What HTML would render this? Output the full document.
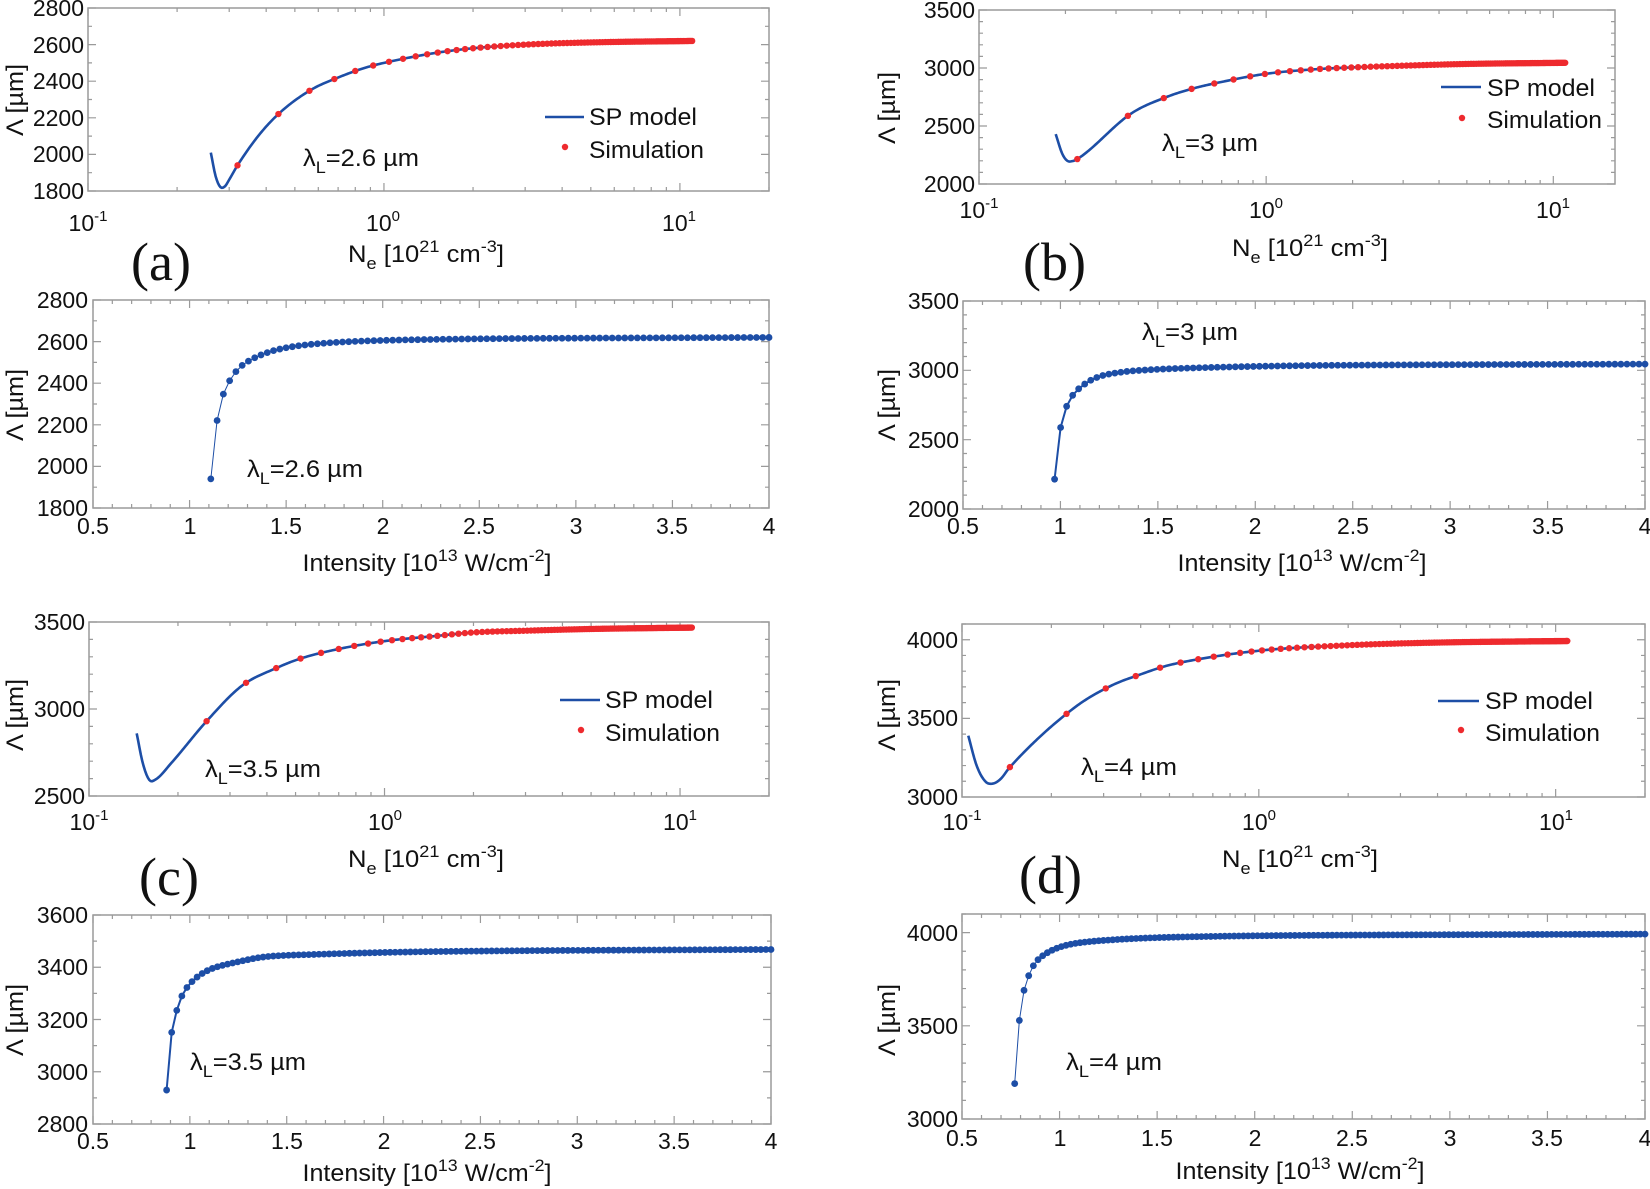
<!DOCTYPE html>
<html><head><meta charset="utf-8">
<style>
html,body{margin:0;padding:0;background:#fff;}
svg{display:block;font-family:"Liberation Sans",Arial,sans-serif;}
.t{font-size:23px;fill:#111;}
.tl{font-size:24px;fill:#111;}
.pl{font-family:"Liberation Serif",serif;font-size:54px;fill:#111;}
</style></head>
<body>
<svg id="s" width="1650" height="1189" viewBox="0 0 1650 1189" xmlns="http://www.w3.org/2000/svg">
<rect width="1650" height="1189" fill="#fff"/>
<g id="geo"></g>

<!-- ===== Panel a ===== -->
<g class="t" text-anchor="end">
<text x="84" y="199">1800</text><text x="84" y="162">2000</text><text x="84" y="126">2200</text><text x="84" y="89">2400</text><text x="84" y="53">2600</text><text x="84" y="16">2800</text>
</g>
<g class="t" text-anchor="middle">
<text x="88" y="231">10<tspan font-size="15" dy="-10">-1</tspan></text>
<text x="383" y="231">10<tspan font-size="15" dy="-10">0</tspan></text>
<text x="679" y="231">10<tspan font-size="15" dy="-10">1</tspan></text>
</g>
<text class="tl" x="426" y="262" text-anchor="middle" textLength="156" lengthAdjust="spacingAndGlyphs">N<tspan font-size="17" dy="7">e</tspan><tspan dy="-7"> [10</tspan><tspan font-size="17" dy="-10">21</tspan><tspan dy="10"> cm</tspan><tspan font-size="17" dy="-10">-3</tspan><tspan dy="10">]</tspan></text>
<text class="tl" transform="translate(23,100) rotate(-90)" text-anchor="middle" textLength="72" lengthAdjust="spacingAndGlyphs">Λ [µm]</text>
<text class="tl" x="303" y="166" textLength="116" lengthAdjust="spacingAndGlyphs">λ<tspan font-size="17" dy="7">L</tspan><tspan dy="-7">=2.6 µm</tspan></text>
<text class="tl" x="589" y="125" textLength="108" lengthAdjust="spacingAndGlyphs">SP model</text>
<text class="tl" x="589" y="158" textLength="115" lengthAdjust="spacingAndGlyphs">Simulation</text>
<text class="pl" x="131" y="280">(a)</text>

<!-- ===== Panel b ===== -->
<g class="t" text-anchor="end">
<text x="975" y="192">2000</text><text x="975" y="134">2500</text><text x="975" y="76">3000</text><text x="975" y="18">3500</text>
</g>
<g class="t" text-anchor="middle">
<text x="979" y="218">10<tspan font-size="15" dy="-10">-1</tspan></text>
<text x="1266" y="218">10<tspan font-size="15" dy="-10">0</tspan></text>
<text x="1553" y="218">10<tspan font-size="15" dy="-10">1</tspan></text>
</g>
<text class="tl" x="1310" y="256" text-anchor="middle" textLength="156" lengthAdjust="spacingAndGlyphs">N<tspan font-size="17" dy="7">e</tspan><tspan dy="-7"> [10</tspan><tspan font-size="17" dy="-10">21</tspan><tspan dy="10"> cm</tspan><tspan font-size="17" dy="-10">-3</tspan><tspan dy="10">]</tspan></text>
<text class="tl" transform="translate(895,108) rotate(-90)" text-anchor="middle" textLength="72" lengthAdjust="spacingAndGlyphs">Λ [µm]</text>
<text class="tl" x="1162" y="151" textLength="96" lengthAdjust="spacingAndGlyphs">λ<tspan font-size="17" dy="7">L</tspan><tspan dy="-7">=3 µm</tspan></text>
<text class="tl" x="1487" y="96" textLength="108" lengthAdjust="spacingAndGlyphs">SP model</text>
<text class="tl" x="1487" y="128" textLength="115" lengthAdjust="spacingAndGlyphs">Simulation</text>
<text class="pl" x="1023" y="280">(b)</text>

<!-- ===== Panel a2 ===== -->
<g class="t" text-anchor="end">
<text x="88" y="516">1800</text><text x="88" y="474">2000</text><text x="88" y="433">2200</text><text x="88" y="391">2400</text><text x="88" y="350">2600</text><text x="88" y="308">2800</text>
</g>
<g class="t" text-anchor="middle">
<text x="93" y="534">0.5</text><text x="190" y="534">1</text><text x="286" y="534">1.5</text><text x="383" y="534">2</text><text x="479" y="534">2.5</text><text x="576" y="534">3</text><text x="672" y="534">3.5</text><text x="769" y="534">4</text>
</g>
<text class="tl" x="427" y="571" text-anchor="middle" textLength="249" lengthAdjust="spacingAndGlyphs">Intensity [10<tspan font-size="17" dy="-10">13</tspan><tspan dy="10"> W/cm</tspan><tspan font-size="17" dy="-10">-2</tspan><tspan dy="10">]</tspan></text>
<text class="tl" transform="translate(23,405) rotate(-90)" text-anchor="middle" textLength="72" lengthAdjust="spacingAndGlyphs">Λ [µm]</text>
<text class="tl" x="247" y="477" textLength="116" lengthAdjust="spacingAndGlyphs">λ<tspan font-size="17" dy="7">L</tspan><tspan dy="-7">=2.6 µm</tspan></text>

<!-- ===== Panel b2 ===== -->
<g class="t" text-anchor="end">
<text x="959" y="517">2000</text><text x="959" y="448">2500</text><text x="959" y="378">3000</text><text x="959" y="309">3500</text>
</g>
<g class="t" text-anchor="middle">
<text x="963" y="534">0.5</text><text x="1060" y="534">1</text><text x="1158" y="534">1.5</text><text x="1255" y="534">2</text><text x="1353" y="534">2.5</text><text x="1450" y="534">3</text><text x="1548" y="534">3.5</text><text x="1645" y="534">4</text>
</g>
<text class="tl" x="1302" y="571" text-anchor="middle" textLength="249" lengthAdjust="spacingAndGlyphs">Intensity [10<tspan font-size="17" dy="-10">13</tspan><tspan dy="10"> W/cm</tspan><tspan font-size="17" dy="-10">-2</tspan><tspan dy="10">]</tspan></text>
<text class="tl" transform="translate(895,405) rotate(-90)" text-anchor="middle" textLength="72" lengthAdjust="spacingAndGlyphs">Λ [µm]</text>
<text class="tl" x="1142" y="340" textLength="96" lengthAdjust="spacingAndGlyphs">λ<tspan font-size="17" dy="7">L</tspan><tspan dy="-7">=3 µm</tspan></text>

<!-- ===== Panel c ===== -->
<g class="t" text-anchor="end">
<text x="85" y="804">2500</text><text x="85" y="717">3000</text><text x="85" y="630">3500</text>
</g>
<g class="t" text-anchor="middle">
<text x="89" y="830">10<tspan font-size="15" dy="-10">-1</tspan></text>
<text x="385" y="830">10<tspan font-size="15" dy="-10">0</tspan></text>
<text x="680" y="830">10<tspan font-size="15" dy="-10">1</tspan></text>
</g>
<text class="tl" x="426" y="867" text-anchor="middle" textLength="156" lengthAdjust="spacingAndGlyphs">N<tspan font-size="17" dy="7">e</tspan><tspan dy="-7"> [10</tspan><tspan font-size="17" dy="-10">21</tspan><tspan dy="10"> cm</tspan><tspan font-size="17" dy="-10">-3</tspan><tspan dy="10">]</tspan></text>
<text class="tl" transform="translate(23,715) rotate(-90)" text-anchor="middle" textLength="72" lengthAdjust="spacingAndGlyphs">Λ [µm]</text>
<text class="tl" x="205" y="777" textLength="116" lengthAdjust="spacingAndGlyphs">λ<tspan font-size="17" dy="7">L</tspan><tspan dy="-7">=3.5 µm</tspan></text>
<text class="tl" x="605" y="708" textLength="108" lengthAdjust="spacingAndGlyphs">SP model</text>
<text class="tl" x="605" y="741" textLength="115" lengthAdjust="spacingAndGlyphs">Simulation</text>
<text class="pl" x="139" y="895">(c)</text>

<!-- ===== Panel d ===== -->
<g class="t" text-anchor="end">
<text x="958" y="805">3000</text><text x="958" y="726">3500</text><text x="958" y="648">4000</text>
</g>
<g class="t" text-anchor="middle">
<text x="962" y="830">10<tspan font-size="15" dy="-10">-1</tspan></text>
<text x="1259" y="830">10<tspan font-size="15" dy="-10">0</tspan></text>
<text x="1556" y="830">10<tspan font-size="15" dy="-10">1</tspan></text>
</g>
<text class="tl" x="1300" y="867" text-anchor="middle" textLength="156" lengthAdjust="spacingAndGlyphs">N<tspan font-size="17" dy="7">e</tspan><tspan dy="-7"> [10</tspan><tspan font-size="17" dy="-10">21</tspan><tspan dy="10"> cm</tspan><tspan font-size="17" dy="-10">-3</tspan><tspan dy="10">]</tspan></text>
<text class="tl" transform="translate(895,715) rotate(-90)" text-anchor="middle" textLength="72" lengthAdjust="spacingAndGlyphs">Λ [µm]</text>
<text class="tl" x="1081" y="775" textLength="96" lengthAdjust="spacingAndGlyphs">λ<tspan font-size="17" dy="7">L</tspan><tspan dy="-7">=4 µm</tspan></text>
<text class="tl" x="1485" y="709" textLength="108" lengthAdjust="spacingAndGlyphs">SP model</text>
<text class="tl" x="1485" y="741" textLength="115" lengthAdjust="spacingAndGlyphs">Simulation</text>
<text class="pl" x="1019" y="893">(d)</text>

<!-- ===== Panel c2 ===== -->
<g class="t" text-anchor="end">
<text x="88" y="1132">2800</text><text x="88" y="1080">3000</text><text x="88" y="1028">3200</text><text x="88" y="975">3400</text><text x="88" y="923">3600</text>
</g>
<g class="t" text-anchor="middle">
<text x="93" y="1149">0.5</text><text x="190" y="1149">1</text><text x="287" y="1149">1.5</text><text x="384" y="1149">2</text><text x="480" y="1149">2.5</text><text x="577" y="1149">3</text><text x="674" y="1149">3.5</text><text x="771" y="1149">4</text>
</g>
<text class="tl" x="427" y="1181" text-anchor="middle" textLength="249" lengthAdjust="spacingAndGlyphs">Intensity [10<tspan font-size="17" dy="-10">13</tspan><tspan dy="10"> W/cm</tspan><tspan font-size="17" dy="-10">-2</tspan><tspan dy="10">]</tspan></text>
<text class="tl" transform="translate(23,1020) rotate(-90)" text-anchor="middle" textLength="72" lengthAdjust="spacingAndGlyphs">Λ [µm]</text>
<text class="tl" x="190" y="1070" textLength="116" lengthAdjust="spacingAndGlyphs">λ<tspan font-size="17" dy="7">L</tspan><tspan dy="-7">=3.5 µm</tspan></text>

<!-- ===== Panel d2 ===== -->
<g class="t" text-anchor="end">
<text x="958" y="1127">3000</text><text x="958" y="1034">3500</text><text x="958" y="941">4000</text>
</g>
<g class="t" text-anchor="middle">
<text x="962" y="1146">0.5</text><text x="1060" y="1146">1</text><text x="1157" y="1146">1.5</text><text x="1255" y="1146">2</text><text x="1352" y="1146">2.5</text><text x="1450" y="1146">3</text><text x="1547" y="1146">3.5</text><text x="1645" y="1146">4</text>
</g>
<text class="tl" x="1300" y="1179" text-anchor="middle" textLength="249" lengthAdjust="spacingAndGlyphs">Intensity [10<tspan font-size="17" dy="-10">13</tspan><tspan dy="10"> W/cm</tspan><tspan font-size="17" dy="-10">-2</tspan><tspan dy="10">]</tspan></text>
<text class="tl" transform="translate(895,1020) rotate(-90)" text-anchor="middle" textLength="72" lengthAdjust="spacingAndGlyphs">Λ [µm]</text>
<text class="tl" x="1066" y="1070" textLength="96" lengthAdjust="spacingAndGlyphs">λ<tspan font-size="17" dy="7">L</tspan><tspan dy="-7">=4 µm</tspan></text>
</svg>

<script>
(function(){
var NS="http://www.w3.org/2000/svg", g=document.getElementById("geo");
var BLUE="#1d4ea6", RED="#ee2a2e", AX="#9a9a9a";
function el(t,a){var e=document.createElementNS(NS,t);for(var k in a)e.setAttribute(k,a[k]);g.appendChild(e);return e;}
function lg(x){return Math.log(x)/Math.LN10;}
function mkInterp(pts){
  var u=pts.map(function(p){return lg(p[0]);}), v=pts.map(function(p){return p[1];}), n=u.length, m=[];
  for(var i=0;i<n;i++){
    if(i==0)m.push((v[1]-v[0])/(u[1]-u[0]));
    else if(i==n-1)m.push((v[n-1]-v[n-2])/(u[n-1]-u[n-2]));
    else m.push(0.5*((v[i+1]-v[i])/(u[i+1]-u[i])+(v[i]-v[i-1])/(u[i]-u[i-1])));
  }
  return function(x){
    var q=lg(x); if(q<=u[0])return v[0]; if(q>=u[n-1])return v[n-1];
    var i=0; while(q>u[i+1])i++;
    var h=u[i+1]-u[i], t=(q-u[i])/h, t2=t*t, t3=t2*t;
    return (2*t3-3*t2+1)*v[i]+(t3-2*t2+t)*h*m[i]+(-2*t3+3*t2)*v[i+1]+(t3-t2)*h*m[i+1];
  };
}
function frame(p){
  el("rect",{x:p.L,y:p.T,width:p.R-p.L,height:p.B-p.T,fill:"none",stroke:AX,"stroke-width":1.5});
  var d="";
  var ym=function(v){return p.B-(v-p.ymin)/(p.ymax-p.ymin)*(p.B-p.T);};
  for(var v=p.ymin;v<=p.ymax+1e-6;v+=p.yminor){
    var y=ym(v), maj=Math.abs((v-p.ymin)%p.ymajor)<1e-6||Math.abs(v%p.ymajor)<1e-6, len=maj?8:4;
    d+="M"+p.L+" "+y+"h"+len+"M"+p.R+" "+y+"h"+(-len);
  }
  if(p.log){
    for(var e=-1;e<=1;e++)for(var k=1;k<=9;k++){
      var x=k*Math.pow(10,e); if(x>p.xmax)break;
      var X=p.xm(x), len=(k==1)?8:4;
      d+="M"+X+" "+p.B+"v"+(-len)+"M"+X+" "+p.T+"v"+len;
    }
  } else {
    for(var i=0;i<=35;i++){
      var x=0.5+i*0.1, X=p.xm(x), len=(i%5==0)?8:4;
      d+="M"+X+" "+p.B+"v"+(-len)+"M"+X+" "+p.T+"v"+len;
    }
  }
  el("path",{d:d,stroke:AX,"stroke-width":1.2,fill:"none"});
  p.ym=ym;
}
function logPanel(p){
  p.log=true;
  p.xm=function(x){return p.L+(lg(x)-lg(0.1))/(lg(p.xmax)-lg(0.1))*(p.R-p.L);};
  frame(p);
  var f=mkInterp(p.pts), n0=p.pts[0][0], n1=11, d="";
  for(var i=0;i<=400;i++){
    var x=Math.pow(10,lg(n0)+(lg(n1)-lg(n0))*i/400);
    d+=(i?"L":"M")+p.xm(x).toFixed(2)+" "+p.ym(f(x)).toFixed(2);
  }
  el("path",{d:d,stroke:BLUE,"stroke-width":2.6,fill:"none"});
  var vals=[];
  for(var n=p.s0;n<=11.0001;n+=p.step){
    vals.push(f(n));
    el("circle",{cx:p.xm(n),cy:p.ym(f(n)),r:3.2,fill:RED});
  }
  el("line",{x1:p.lg[0],x2:p.lg[1],y1:p.lg[2],y2:p.lg[2],stroke:BLUE,"stroke-width":2.6});
  el("circle",{cx:p.lg[3],cy:p.lg[4],r:3.2,fill:RED});
  return vals;
}
function intPanel(p,vals){
  p.log=false;
  p.xm=function(x){return p.L+(x-0.5)/3.5*(p.R-p.L);};
  frame(p);
  var N=vals.length, d="", pts=[];
  for(var i=0;i<N;i++){
    var I=p.I0+(4-p.I0)*i/(N-1);
    var X=p.xm(I), Y=p.ym(vals[i]);
    d+=(i?"L":"M")+X.toFixed(2)+" "+Y.toFixed(2);
    pts.push([X,Y]);
  }
  el("path",{d:d,stroke:BLUE,"stroke-width":p.lw,fill:"none"});
  pts.forEach(function(q){el("circle",{cx:q[0],cy:q[1],r:3.4,fill:BLUE});});
}
var va=logPanel({L:88,T:8,R:769,B:191,xmax:20,ymin:1800,ymax:2800,ymajor:200,yminor:100,
  pts:[[0.26,2010],[0.27,1880],[0.28,1822],[0.29,1825],[0.3,1862],[0.32,1940],[0.38,2110],[0.45,2235],[0.57,2355],[0.7,2420],[0.85,2470],[1,2500],[1.5,2555],[2,2580],[3,2600],[5,2612],[11,2620]],
  s0:0.32,step:0.12,lg:[545,584,117,565,147]});
intPanel({L:93,T:300,R:769,B:508,ymin:1800,ymax:2800,ymajor:200,yminor:100,I0:1.11,lw:1},va);

var vb=logPanel({L:979,T:10,R:1615,B:184,xmax:16.4,ymin:2000,ymax:3500,ymajor:500,yminor:100,
  pts:[[0.185,2430],[0.195,2260],[0.203,2200],[0.212,2198],[0.22,2215],[0.34,2610],[0.45,2750],[0.55,2820],[0.7,2880],[1,2950],[1.5,2990],[2,3005],[3,3020],[5,3035],[11,3045]],
  s0:0.22,step:0.11,lg:[1441,1481,87,1462,118]});
intPanel({L:963,T:301,R:1645,B:509,ymin:2000,ymax:3500,ymajor:500,yminor:100,I0:0.97,lw:2},vb);

var vc=logPanel({L:89,T:622,R:769,B:796,xmax:20,ymin:2500,ymax:3500,ymajor:500,yminor:100,
  pts:[[0.145,2860],[0.152,2690],[0.16,2592],[0.168,2595],[0.19,2690],[0.25,2930],[0.33,3135],[0.43,3235],[0.52,3290],[0.7,3345],[1,3390],[1.5,3420],[2,3440],[3,3450],[5,3460],[11,3468]],
  s0:0.25,step:0.09,lg:[560,600,700,581,730]});
intPanel({L:93,T:915,R:771,B:1124,ymin:2800,ymax:3600,ymajor:200,yminor:100,I0:0.88,lw:2},vc);

var vd=logPanel({L:962,T:624,R:1645,B:797,xmax:20,ymin:3000,ymax:4100,ymajor:500,yminor:100,
  pts:[[0.105,3390],[0.112,3200],[0.12,3098],[0.127,3085],[0.135,3115],[0.145,3190],[0.24,3570],[0.32,3710],[0.4,3780],[0.48,3830],[0.6,3870],[1,3930],[2,3965],[4,3982],[11,3992]],
  s0:0.145,step:0.08,lg:[1438,1479,701,1461,730]});
intPanel({L:962,T:914,R:1645,B:1119,ymin:3000,ymax:4100,ymajor:500,yminor:100,I0:0.77,lw:1},vd);
})();
</script>
</body></html>
